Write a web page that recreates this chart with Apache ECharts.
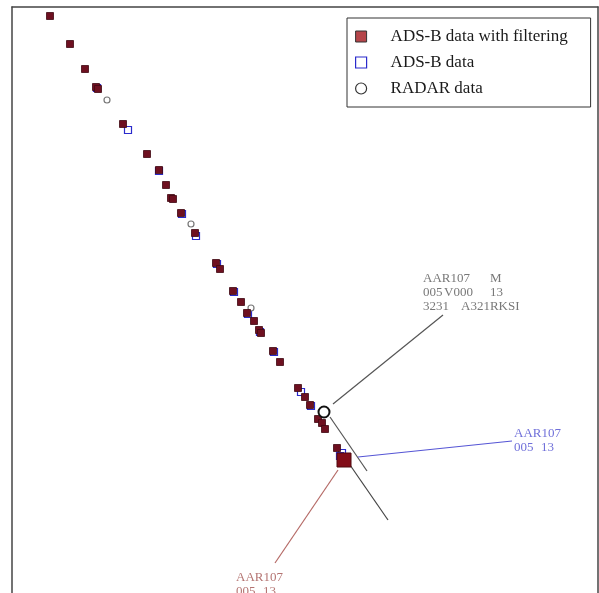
<!DOCTYPE html>
<html>
<head>
<meta charset="utf-8">
<script src="https://cdn.jsdelivr.net/npm/echarts@6/dist/echarts.min.js"></script>
<style>html,body{margin:0;padding:0;background:#fff}#c{width:599px;height:593px}</style>
</head>
<body>
<div id="c"></div>
<script>
// Track positions (display units)
const filteredTrack = [[38,577],[58,549],[73,524],[84,506],[86,504],[111,469],[135,439],[147,423],[154,408],[159,395],[161,394],[169,380],[183,360],[204,330],[208,324],[221,302],[229,291],[235,280],[242,272],[247,263],[249,260],[261,242],[268,231],[286,205],[293,196],[298,188],[306,174],[310,170],[313,164],[325,145]];
const filteredCurrent = [[332,133]];
const adsbTrack = [[85,505],[116,463],[147,422],[170,379],[184,357],[205,329],[222,301],[236,279],[248,261],[262,241],[289,201],[299,187],[330,140],[328,137]];
const radarTrack = [[95,493],[179,369],[239,285]];
const radarCurrent = [[312,181]];
// Leader / heading lines
const radarLines = [[[321,189],[431,278]],[[318,176],[355,122]]];
const adsbLines = [[[346,136],[500,152]]];
const filteredLines = [[[326,123],[263,30]]];
const filteredHeading = [[[338,128],[376,73]]];
// Data-block anchors
const radarLabelPos = [411,321];
const adsbLabelPos = [502,166];
const filteredLabelPos = [224,22];
const legendNames = ['ADS-B data with filtering','ADS-B data','RADAR data'];

const serif = 'Liberation Serif';
const chart = echarts.init(document.getElementById('c'));
function seg(list){ return list.map(c => ({coords:c})); }
const frameLine = {show:true, onZero:false, lineStyle:{color:'#444', width:1.5}};
const option = {
  animation:false,
  grid:{left:12, top:7, right:1, bottom:0, show:false, containLabel:false},
  xAxis:{type:'value', min:0, max:586, position:'top', axisLine:frameLine, axisTick:{show:false}, axisLabel:{show:false}, splitLine:{show:false}},
  yAxis:[
    {type:'value', min:0, max:586, position:'left', axisLine:frameLine, axisTick:{show:false}, axisLabel:{show:false}, splitLine:{show:false}},
    {type:'value', min:0, max:586, position:'right', axisLine:frameLine, axisTick:{show:false}, axisLabel:{show:false}, splitLine:{show:false}}
  ],
  legend:{
    orient:'vertical', left:347, top:18,
    backgroundColor:'#fff', borderColor:'#333', borderWidth:1,
    padding:[10,8,10,8], itemGap:9, itemWidth:11, itemHeight:11,
    textStyle:{fontFamily:serif, fontSize:17, color:'#1a1a1a', lineHeight:16, width:192, padding:[0,0,0,19]},
    data:[
      {name:legendNames[0], icon:'rect', itemStyle:{color:'#b5454a', borderColor:'#333', borderWidth:1}},
      {name:legendNames[1], icon:'rect', itemStyle:{color:'#fff', borderColor:'#2a2acc', borderWidth:1.2}},
      {name:legendNames[2], icon:'circle', itemStyle:{color:'#fff', borderColor:'#333', borderWidth:1.2}}
    ]
  },
  series:[
    {type:'lines', coordinateSystem:'cartesian2d', silent:true, lineStyle:{color:'#555', width:1.2, opacity:1}, data:seg(radarLines)},
    {type:'lines', coordinateSystem:'cartesian2d', silent:true, lineStyle:{color:'#5555d5', width:1.2, opacity:1}, data:seg(adsbLines)},
    {type:'lines', coordinateSystem:'cartesian2d', silent:true, lineStyle:{color:'#b56a66', width:1.2, opacity:1}, data:seg(filteredLines)},
    {type:'lines', coordinateSystem:'cartesian2d', silent:true, lineStyle:{color:'#444', width:1.2, opacity:1}, data:seg(filteredHeading)},
    {name:legendNames[1], type:'scatter', symbol:'rect', symbolSize:7, data:adsbTrack,
      itemStyle:{color:'rgba(255,255,255,0)', borderColor:'#2a2acc', borderWidth:1.2, opacity:1}},
    {name:legendNames[2], type:'scatter', symbol:'circle', symbolSize:6, data:radarTrack,
      itemStyle:{color:'#fff', borderColor:'#777', borderWidth:1.2, opacity:1}},
    {name:legendNames[0], type:'scatter', symbol:'rect', symbolSize:7, data:filteredTrack,
      itemStyle:{color:'#6e1020', borderColor:'#400812', borderWidth:0.8, opacity:1}},
    {name:legendNames[0], type:'scatter', symbol:'rect', symbolSize:14, data:filteredCurrent,
      itemStyle:{color:'#820c18', borderColor:'#50080e', borderWidth:1, opacity:1}},
    {name:legendNames[2], type:'scatter', symbol:'circle', symbolSize:11, data:radarCurrent,
      itemStyle:{color:'#fff', borderColor:'#111', borderWidth:2, opacity:1}},
    {type:'scatter', silent:true, symbolSize:0, data:[radarLabelPos],
      label:{show:true, position:[0,0], align:'left', verticalAlign:'top',
        fontFamily:serif, fontSize:13, color:'#555', lineHeight:14,
        formatter:'{a|AAR107}{t|M}\n{c|005}{d|V000}{t|13}\n{e|3231}{t|A321RKSI}',
        rich:{a:{width:67,fontFamily:serif,fontSize:13,color:'#555'},c:{width:21,fontFamily:serif,fontSize:13,color:'#555'},
              d:{width:46,fontFamily:serif,fontSize:13,color:'#555'},e:{width:38,fontFamily:serif,fontSize:13,color:'#555'},
              t:{fontFamily:serif,fontSize:13,color:'#555'}}}},
    {type:'scatter', silent:true, symbolSize:0, data:[adsbLabelPos],
      label:{show:true, position:[0,0], align:'left', verticalAlign:'top',
        fontFamily:serif, fontSize:13, color:'#4b4bd0', lineHeight:14,
        formatter:'AAR107\n{c|005}13', rich:{c:{width:27,fontFamily:serif,fontSize:13,color:'#4b4bd0'}}}},
    {type:'scatter', silent:true, symbolSize:0, data:[filteredLabelPos],
      label:{show:true, position:[0,0], align:'left', verticalAlign:'top',
        fontFamily:serif, fontSize:13, color:'#a0504d', lineHeight:14,
        formatter:'AAR107\n{c|005}13', rich:{c:{width:27,fontFamily:serif,fontSize:13,color:'#a0504d'}}}}
  ]
};
chart.setOption(option);
</script>
</body>
</html>
